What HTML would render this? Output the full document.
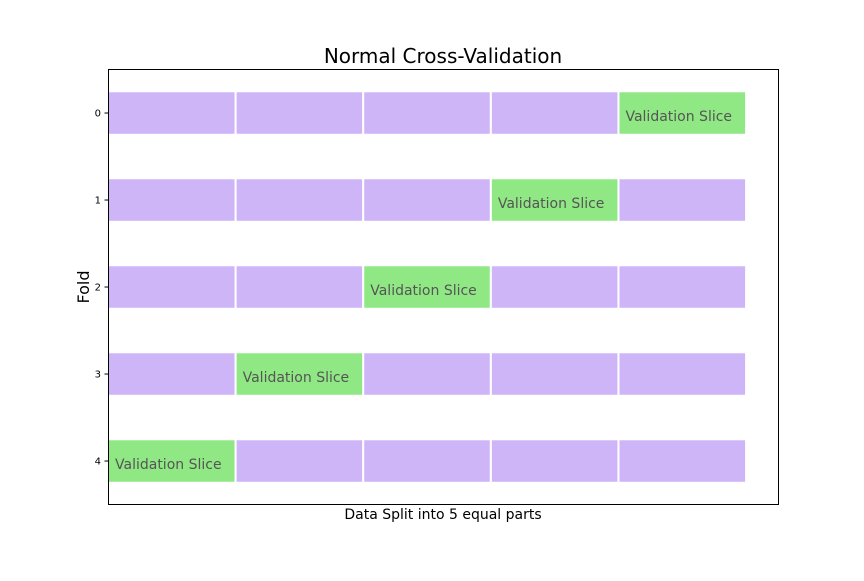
<!DOCTYPE html>
<html><head><meta charset="utf-8"><style>
body{margin:0;background:#fff}
svg text{font-family:"DejaVu Sans","Liberation Sans",sans-serif}
</style></head><body>
<svg id="chart" width="864" height="576" viewBox="0 0 864 576" xmlns="http://www.w3.org/2000/svg">
<rect width="864" height="576" fill="#fff"/>
<text x="443" y="63" font-size="20" text-anchor="middle" fill="#000">Normal Cross-Validation</text>
<g id="bars"></g>
<rect x="108.5" y="69.5" width="670" height="435" fill="none" stroke="#000" stroke-width="1"/>
<g id="yticks"></g>
<text x="443" y="519" font-size="14" text-anchor="middle" fill="#000">Data Split into 5 equal parts</text>
<text transform="translate(89,287) rotate(-90)" font-size="16" text-anchor="middle" fill="#000">Fold</text>
</svg>
<script>
const folds = [0, 1, 2, 3, 4];
const parts = [0, 1, 2, 3, 4];
const validationPart = [4, 3, 2, 1, 0];
const tickLabels = ["0", "1", "2", "3", "4"];
const partWidth = 1;

const X0 = 108, XW = 670, XMIN = 0, XMAX = 5.25;
const Y0 = 69, YH = 435, YMIN = -0.506, YMAX = 4.494;
const xs = v => X0 + (v - XMIN) / (XMAX - XMIN) * XW;
const ys = v => Y0 + (v - YMIN) / (YMAX - YMIN) * YH;
const NS = "http://www.w3.org/2000/svg";
const barsG = document.getElementById('bars');
const tickG = document.getElementById('yticks');
const barH = 0.5;

folds.forEach((f, i) => {
  parts.forEach(p => {
    const r = document.createElementNS(NS, 'rect');
    const x1 = xs(p * partWidth), x2 = xs((p + 1) * partWidth);
    const isVal = validationPart[i] === p;
    r.setAttribute('x', x1);
    r.setAttribute('y', ys(f - barH / 2));
    r.setAttribute('width', x2 - x1);
    r.setAttribute('height', ys(f + barH / 2) - ys(f - barH / 2));
    r.setAttribute('fill', isVal ? '#90e884' : '#cdb5f8');
    r.setAttribute('stroke', '#fff');
    r.setAttribute('stroke-width', '2');
    
    
    barsG.appendChild(r);
    if (isVal) {
      const t = document.createElementNS(NS, 'text');
      t.setAttribute('x', x1 + 7);
      t.setAttribute('y', ys(f) + 8);
      t.setAttribute('font-size', '14');
      t.setAttribute('fill', '#555');
      t.textContent = 'Validation Slice';
      
      
      barsG.appendChild(t);
    }
  });
  const tk = document.createElementNS(NS, 'line');
  tk.setAttribute('x1', X0 - 3.5); tk.setAttribute('x2', X0);
  tk.setAttribute('y1', ys(f)); tk.setAttribute('y2', ys(f));
  tk.setAttribute('stroke', '#000');
  
  
  tickG.appendChild(tk);
  const tl = document.createElementNS(NS, 'text');
  tl.setAttribute('x', X0 - 7); tl.setAttribute('y', ys(f) + 3.5);
  tl.setAttribute('font-size', '10'); tl.setAttribute('text-anchor', 'end');
  tl.textContent = tickLabels[i];
  
  
  tickG.appendChild(tl);
});
</script>
</body></html>
